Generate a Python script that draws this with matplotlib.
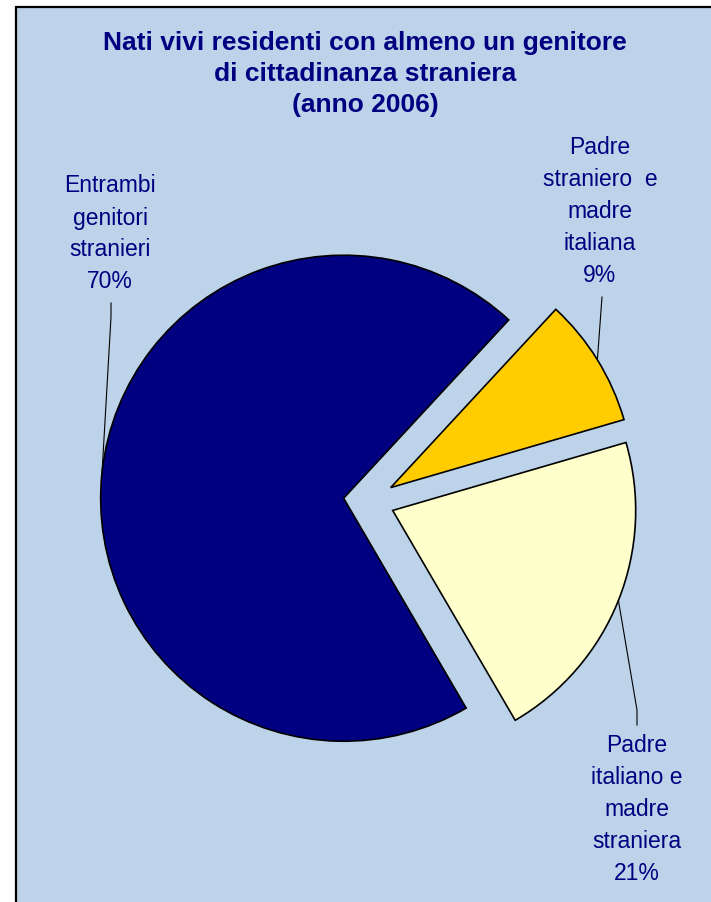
import numpy as np
import matplotlib
matplotlib.use("Agg")
import matplotlib.pyplot as plt
from matplotlib.patches import Rectangle

# ---- data ----
categories = ["Entrambi\ngenitori\nstranieri",
              "Padre\nitaliano e\nmadre\nstraniera",
              "Padre\nstraniero  e\nmadre\nitaliana"]
values = [70.3, 21.1, 8.6]
colors = ["#000080", "#FFFFCC", "#FFCC00"]
title = "Nati vivi residenti con almeno un genitore\ndi cittadinanza straniera\n(anno 2006)"

W, H = 711, 902
NAVY = "#000080"
BG = "#BDD3EA"
FONT = ["Liberation Sans", "DejaVu Sans"]

fig = plt.figure(figsize=(W / 100, H / 100), dpi=100)
fig.patch.set_facecolor("white")
ax = fig.add_axes([0, 0, 1, 1])

def py(y):
    return H - y

# chart area frame
ax.add_patch(Rectangle((16, -20), W + 40, py(7) + 20, facecolor=BG,
                       edgecolor="black", linewidth=1.6, zorder=0))

# pie
cx, cy = 369, py(501)
R = 243
wedges, _ = ax.pie(values, colors=colors, startangle=47.2, counterclock=True,
                   radius=R, center=(cx, cy), explode=[25.5] * len(values),
                   wedgeprops=dict(edgecolor="black", linewidth=1.2),
                   frame=True)
ax.set_xlim(0, W)
ax.set_ylim(0, H)
ax.set_aspect("equal")
ax.axis("off")

# labels (pixel positions of label centres) and leader-line elbows
label_pos = [(110, 234), (637, 810), (600, 212)]
elbows = [[(111, 303), (111, 317)], [(637, 725), (637, 710)], [(602, 297)]]

for w, cat, v, (lx, ly), elb in zip(wedges, categories, values, label_pos, elbows):
    ax.text(lx, py(ly), f"{cat}\n{round(v)}%", ha="center", va="center",
            multialignment="center", color=NAVY, fontsize=16.5,
            family=FONT, linespacing=1.5, zorder=5)
    thm = np.deg2rad(0.5 * (w.theta1 + w.theta2))
    ex = w.center[0] + w.r * np.cos(thm)
    ey = w.center[1] + w.r * np.sin(thm)
    pts = [(x, py(y)) for x, y in elb] + [(ex, ey)]
    xs, ys = zip(*pts)
    ax.plot(xs, ys, color="black", linewidth=0.8, zorder=4)

ax.text(365, py(74), title, ha="center", va="center", multialignment="center",
        color=NAVY, fontsize=19, fontweight="bold", family=FONT,
        linespacing=1.37, zorder=5)

fig.savefig("out.png", dpi=100, facecolor="white")
